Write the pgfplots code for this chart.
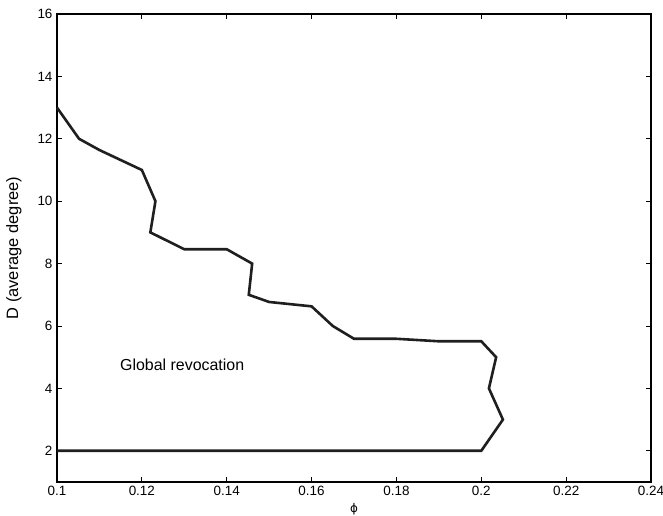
\documentclass[border=0pt]{standalone}
\usepackage{fontspec}
\setmainfont{Liberation Sans}
\newfontfamily\dejavu{DejaVu Sans}
\usepackage{pgfplots}
\pgfplotsset{compat=1.18}
\begin{document}
\begin{tikzpicture}
\begin{axis}[
  scale only axis,
  width=594bp, height=468bp,
  xmin=0.1, xmax=0.24, ymin=1, ymax=16,
  xtick={0.1,0.12,0.14,0.16,0.18,0.2,0.22,0.24},
  xticklabels={0.1,0.12,0.14,0.16,0.18,0.2,0.22,0.24},
  ytick={2,4,6,8,10,12,14,16},
  tick align=inside,
  tick pos=both,
  major tick length=5bp,
  axis line style={line width=1.2bp, black},
  tick style={line width=0.8bp, black},
  ticklabel style={font=\fontsize{13.5}{15}\selectfont},
  /pgf/number format/assume math mode=true,
  xticklabel style={yshift=-1bp},
  yticklabel style={xshift=-1bp},
  xlabel={{\dejavu ϕ}},
  ylabel={D (average degree)},
  xlabel style={at={(axis description cs:0.5,-0.0585)}, anchor=center, font=\fontsize{12}{14}\selectfont},
  ylabel style={at={(axis description cs:-0.0724,0.5)}, anchor=center, font=\fontsize{16.5}{19}\selectfont},
  clip=false,
]
\addplot[line width=2.6bp, color=black!88] coordinates {
(0.1,13.0)
(0.1052,12.0)
(0.11,11.64)
(0.12,11.0)
(0.1232,10.0)
(0.1220,9.0)
(0.13,8.46)
(0.14,8.46)
(0.146,8.0)
(0.1452,7.0)
(0.15,6.77)
(0.16,6.63)
(0.165,6.0)
(0.17,5.59)
(0.18,5.59)
(0.19,5.51)
(0.2,5.51)
(0.2035,5.0)
(0.2018,4.0)
(0.2051,3.0)
(0.2,2.0)
(0.1,2.0)
};
\node[font=\fontsize{16}{19}\selectfont, anchor=center] at (axis cs:0.1295,4.75) {Global revocation};
\end{axis}
\pgfresetboundingbox
\path ([xshift=-57bp,yshift=-34bp]current axis.south west) rectangle ([xshift=12bp,yshift=14bp]current axis.north east);
\end{tikzpicture}
\end{document}
